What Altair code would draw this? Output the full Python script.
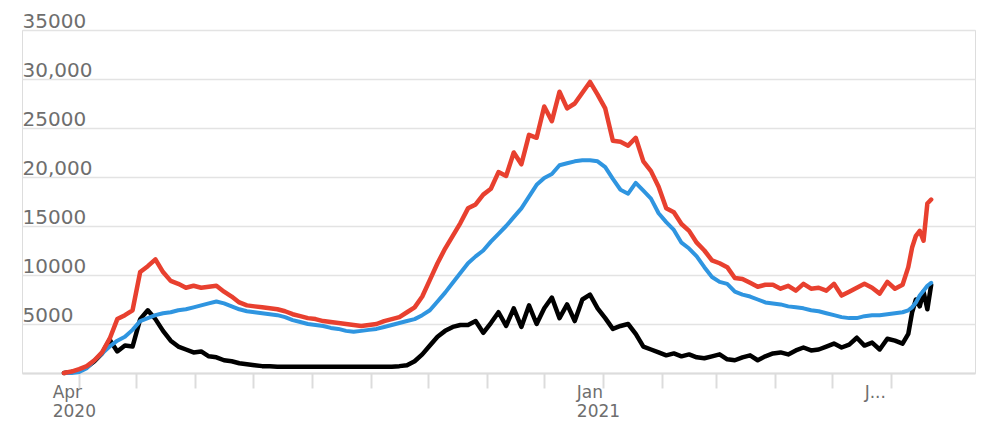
import altair as alt
import pandas as pd

# day offsets from 2020-03-24 (4-day grid, denser at the end)
days = list(range(0, 436, 4)) + [436, 440, 443, 445, 447, 449, 451, 453, 455]

red = [0, 150, 400, 700, 1300, 2100, 3500, 5500, 5900, 6400,
       10300, 10900, 11600, 10300, 9400, 9100, 8700, 8900, 8700, 8800,
       8900, 8300, 7800, 7200, 6900, 6800, 6700, 6600, 6500, 6300,
       6000, 5800, 5600, 5500, 5300, 5200, 5100, 5000, 4900, 4800,
       4900, 5000, 5300, 5500, 5700, 6200, 6700, 7800, 9500, 11200,
       12700, 14000, 15300, 16800, 17200, 18200, 18800, 20500, 20100, 22500,
       21300, 24300, 24000, 27200, 25700, 28700, 27000, 27500, 28600, 29700,
       28400, 27000, 23700, 23600, 23200, 24000, 21600, 20600, 19000, 16800,
       16400, 15200, 14500, 13300, 12500, 11500, 11200, 10800, 9700, 9600,
       9200, 8800, 9000, 9000, 8600, 8900, 8400, 9100, 8600, 8700,
       8400, 9100, 7900, 8300, 8700, 9100, 8700, 8100, 9300,
       8600, 9000, 10800, 12800, 14000, 14500, 13500, 17300, 17700]

blue = [0, 0, 100, 500, 1300, 2000, 2700, 3300, 3700, 4400,
        5300, 5600, 5900, 6100, 6200, 6400, 6500, 6700, 6900, 7100,
        7300, 7100, 6800, 6500, 6300, 6200, 6100, 6000, 5900, 5700,
        5400, 5200, 5000, 4900, 4800, 4600, 4500, 4300, 4200, 4300,
        4400, 4500, 4700, 4900, 5100, 5300, 5500, 5900, 6400, 7300,
        8200, 9200, 10200, 11200, 11900, 12500, 13400, 14200, 15000, 15900,
        16800, 18000, 19200, 19900, 20300, 21200, 21400, 21600, 21700, 21700,
        21600, 21000, 19800, 18700, 18300, 19400, 18600, 17800, 16300, 15400,
        14600, 13300, 12700, 11900, 10800, 9800, 9300, 9100, 8300, 8000,
        7800, 7500, 7200, 7100, 7000, 6800, 6700, 6600, 6400, 6300,
        6100, 5900, 5700, 5600, 5600, 5800, 5900, 5900, 6000,
        6100, 6200, 6400, 6700, 7200, 7900, 8400, 8900, 9200]

black = [0, 100, 300, 600, 1200, 2000, 3400, 2200, 2800, 2700,
         5500, 6400, 5500, 4300, 3300, 2700, 2400, 2100, 2200, 1700,
         1600, 1300, 1200, 1000, 900, 800, 700, 700, 650, 650,
         650, 650, 650, 650, 650, 650, 650, 650, 650, 650,
         650, 650, 650, 650, 700, 800, 1200, 1900, 2800, 3700,
         4300, 4700, 4900, 4900, 5300, 4100, 5100, 6200, 4800, 6600,
         4700, 6900, 5000, 6600, 7700, 5600, 7000, 5300, 7500, 8000,
         6600, 5600, 4500, 4800, 5000, 4000, 2700, 2400, 2100, 1800,
         2000, 1700, 1900, 1600, 1500, 1700, 1900, 1400, 1300, 1600,
         1800, 1300, 1700, 2000, 2100, 1900, 2300, 2600, 2300, 2400,
         2700, 3000, 2600, 2900, 3600, 2800, 3100, 2400, 3500,
         3300, 3000, 4000, 6200, 7500, 6800, 8300, 6500, 9000]

series_names = ["black", "blue", "red"]
series_colors = ["#000000", "#2f95e0", "#e8402f"]
series_widths = [4.5, 4, 4.5]

y_ticks = [0, 5000, 10000, 15000, 20000, 25000, 30000, 35000]
y_labels = ["", "5000", "10000", "15000", "20,000", "25000", "30,000", "35000"]

x_tick_dates = ["2020-04-01", "2020-05-01", "2020-06-01", "2020-07-01", "2020-08-01",
                "2020-09-01", "2020-10-01", "2020-11-01", "2020-12-01", "2021-01-01",
                "2021-02-01", "2021-03-01", "2021-04-01", "2021-05-01", "2021-06-01"]
x_label_map = {"2020-04-01": ["Apr", "2020"], "2021-01-01": ["Jan", "2021"], "2021-06-01": ["J..."]}
x_domain = ["2020-03-02", "2021-07-15"]

base = pd.Timestamp("2020-03-24")
dates = [(base + pd.Timedelta(days=d)).strftime("%Y-%m-%d") for d in days]

rows = []
for name, vals in zip(series_names, [black, blue, red]):
    for dt, v in zip(dates, vals):
        rows.append({"date": dt, "value": v, "series": name})
df = pd.DataFrame(rows)


def ms(s):
    return int(pd.Timestamp(s, tz="UTC").value // 10**6)


x_tick_ms = [ms(s) for s in x_tick_dates]
x_expr_parts = []
for s, lab in x_label_map.items():
    ts = pd.Timestamp(s)
    arr = "[" + ",".join("'" + t + "'" for t in lab) + "]"
    x_expr_parts.append(
        f"(utcyear(datum.value) == {ts.year} && utcmonth(datum.value) == {ts.month - 1}) ? {arr}"
    )
x_label_expr = " : ".join(x_expr_parts) + " : ''"

y_expr_parts = [f"datum.value == {v} ? '{l}'" for v, l in zip(y_ticks, y_labels)]
y_label_expr = " : ".join(y_expr_parts) + " : ''"

x_enc = alt.X(
    "date:T",
    scale=alt.Scale(type="utc", domain=[ms(x_domain[0]), ms(x_domain[1])], nice=False),
    axis=alt.Axis(
        title=None, values=x_tick_ms, labelExpr=x_label_expr, grid=False,
        domain=True, domainColor="#dcdcdc", domainWidth=2,
        ticks=True, tickColor="#dcdcdc", tickWidth=2, tickSize=15,
        labelAlign="left", labelOffset=-27, labelBaseline="top", labelPadding=-4,
        labelLineHeight=19, labelFont="DejaVu Sans", labelFontSize=17,
        labelColor="#6e6e6e", labelOverlap=False, labelFlush=False,
    ),
)
y_enc = alt.Y(
    "value:Q",
    scale=alt.Scale(domain=[0, 35000], nice=False),
    axis=alt.Axis(
        title=None, values=y_ticks, labelExpr=y_label_expr, grid=True,
        gridColor="#e3e3e3", gridWidth=1.5, domain=False, ticks=False, tickSize=0,
        labelAlign="left", labelBaseline="alphabetic", labelPadding=0, labelOffset=-3,
        labelFont="DejaVu Sans", labelFontSize=20, labelColor="#6e6e6e",
        labelOverlap=False, labelFlush=False,
    ),
)

layers = []
for i, (name, col, w) in enumerate(zip(series_names, series_colors, series_widths)):
    enc_x = x_enc if i == 0 else alt.X("date:T")
    enc_y = y_enc if i == 0 else alt.Y("value:Q")
    layers.append(
        alt.Chart(df)
        .transform_filter(alt.datum.series == name)
        .mark_line(color=col, strokeWidth=w, strokeJoin="round", strokeCap="round")
        .encode(x=enc_x, y=enc_y)
    )

chart = (
    alt.layer(*layers)
    .properties(
        width=953, height=343,
        autosize=alt.AutoSizeParams(type="none"),
        padding={"left": 14, "top": 22, "right": 7, "bottom": 47},
    )
    .configure_view(stroke=None)
    .configure(background="white")
)

chart.save("out.html", embed_options={"renderer": "svg", "actions": False})
